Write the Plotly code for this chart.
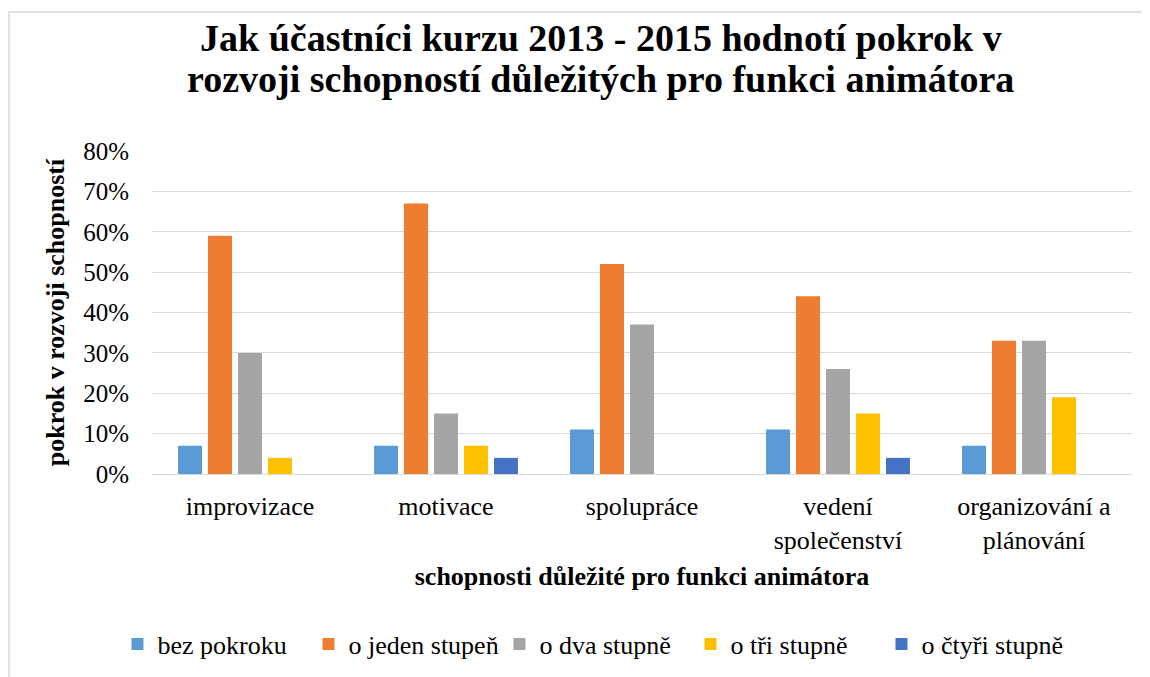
import plotly.graph_objects as go

categories = ["improvizace", "motivace", "spolupráce", "vedení<br>společenství", "organizování a<br>plánování"]
series_names = ["bez pokroku", "o jeden stupeň", "o dva stupně", "o tři stupně", "o čtyři stupně"]
bez_pokroku = [7, 7, 11, 11, 7]
o_jeden = [59, 67, 52, 44, 33]
o_dva = [30, 15, 37, 26, 33]
o_tri = [4, 7, None, 15, 19]
o_ctyri = [None, 4, None, 4, None]
colors = ["#5B9BD5", "#ED7D31", "#A5A5A5", "#FFC000", "#4472C4"]

title_line1 = "Jak účastníci kurzu 2013 - 2015 hodnotí pokrok v"
title_line2 = "rozvoji schopností důležitých pro funkci animátora"
x_title = "schopnosti důležité pro funkci animátora"
y_title = "pokrok v rozvoji schopností"

FONT = "Liberation Serif"

fig = go.Figure()
for name, vals, col in zip(series_names, [bez_pokroku, o_jeden, o_dva, o_tri, o_ctyri], colors):
    fig.add_trace(go.Bar(name=name, x=categories, y=vals, marker=dict(color=col, line=dict(width=0))))

fig.update_layout(
    width=1150, height=677,
    margin=dict(l=144, r=26, t=143, b=211, autoexpand=False),
    paper_bgcolor="white", plot_bgcolor="white",
    barmode="group", bargap=0.235, bargroupgap=0.2,
    font=dict(family=FONT, size=26, color="black"),
    showlegend=True,
    legend=dict(orientation="h", x=0.452, xanchor="center", y=-0.527, yanchor="middle",
                entrywidth=146, entrywidthmode="pixels",
                font=dict(size=26, family=FONT, color="black"), traceorder="normal"),
    xaxis=dict(showgrid=False, showline=False, ticks="", ticklabelstandoff=14, automargin=False,
               title=dict(text=x_title, font=dict(size=26, family=FONT, weight="bold", color="black"), standoff=13),
               tickfont=dict(size=26, family=FONT, color="black")),
    yaxis=dict(range=[0, 80], dtick=10, ticksuffix="%", showgrid=True, gridcolor="#d9d9d9", gridwidth=1.3,
               zeroline=True, zerolinecolor="#d9d9d9", zerolinewidth=1.3, showline=False, ticks="",
               ticklabelstandoff=22, tickfont=dict(size=25, family=FONT, color="black"), automargin=False,
               title=dict(text=y_title, font=dict(size=26, family=FONT, weight="bold", color="black"), standoff=11)),
)

fig.add_annotation(text=title_line1, xref="paper", yref="paper", x=0.458, y=1.3499,
                   xanchor="center", yanchor="middle", showarrow=False,
                   font=dict(size=38, family=FONT, weight="bold", color="black"))
fig.add_annotation(text=title_line2, xref="paper", yref="paper", x=0.458, y=1.2229,
                   xanchor="center", yanchor="middle", showarrow=False,
                   font=dict(size=38, family=FONT, weight="bold", color="black"))

fig.add_shape(type="path", xref="paper", yref="paper",
              path="M -0.1459,-1.0 L -0.1459,1.4303 L 1.3,1.4303",
              line=dict(color="#d9d9d9", width=1.5), fillcolor="rgba(0,0,0,0)", layer="below")

fig.write_html("out.html")
